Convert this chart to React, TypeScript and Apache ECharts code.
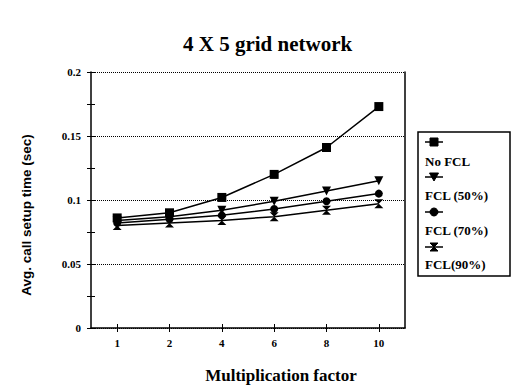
import React, { useEffect, useRef } from "react";
import * as echarts from "echarts";

const categories = ["1", "2", "4", "6", "8", "10"];
const noFCL = [0.086, 0.09, 0.102, 0.12, 0.141, 0.173];
const fcl50 = [0.084, 0.087, 0.092, 0.099, 0.107, 0.115];
const fcl70 = [0.082, 0.085, 0.088, 0.093, 0.099, 0.105];
const fcl90 = [0.08, 0.082, 0.084, 0.087, 0.092, 0.097];
const seriesNames = ["No FCL", "FCL (50%)", "FCL (70%)", "FCL(90%)"];

const SERIF = "'Liberation Serif', 'Times New Roman', serif";
const SANS = "'Liberation Sans', Arial, sans-serif";
const HOURGLASS = "path://M0,0L10,0L5,5L10,10L0,10L5,5Z";

export default function App() {
  const ref = useRef<HTMLDivElement>(null);
  useEffect(() => {
    document.body.style.margin = "0";
    const chart = echarts.init(ref.current!, null, { renderer: "svg" });
    const black = "#000";
    const common = {
      type: "line",
      xAxisIndex: 0,
      yAxisIndex: 0,
      lineStyle: { color: black, width: 1.5 },
      itemStyle: { color: black },
      showSymbol: true,
    };
    const legendGraphics: any[] = [
      {
        type: "rect",
        shape: { x: 418, y: 132, width: 92, height: 144 },
        style: { fill: "#fff", stroke: black, lineWidth: 1.5 },
        z: 10,
      },
    ];
    seriesNames.forEach((name, i) => {
      const sy = 142 + i * 35;
      const ty = 161 + i * 34.5;
      legendGraphics.push({
        type: "line",
        shape: { x1: 425, y1: sy, x2: 443, y2: sy },
        style: { stroke: black, lineWidth: 1.5 },
        z: 11,
      });
      let sym: any;
      if (i === 0) {
        sym = { type: "rect", shape: { x: 430, y: sy - 4, width: 8, height: 8 } };
      } else if (i === 1) {
        sym = { type: "polygon", shape: { points: [[429.5, sy - 4], [438.5, sy - 4], [434, sy + 4]] } };
      } else if (i === 2) {
        sym = { type: "circle", shape: { cx: 434, cy: sy, r: 4 } };
      } else {
        sym = {
          type: "polygon",
          shape: { points: [[430, sy - 4], [438, sy - 4], [434, sy], [438, sy + 4], [430, sy + 4], [434, sy]] },
        };
      }
      sym.style = { fill: black, stroke: black };
      sym.z = 11;
      legendGraphics.push(sym);
      legendGraphics.push({
        type: "text",
        x: 425,
        y: ty,
        style: {
          text: name,
          font: `bold 13px ${SERIF}`,
          fill: black,
          textVerticalAlign: "middle",
        },
        z: 11,
      });
    });

    const tickAxisBase = {
      type: "value",
      min: 0,
      max: 0.2,
      interval: 0.05,
    };

    chart.setOption({
      animation: false,
      title: {
        text: "4 X 5 grid network",
        left: 178,
        top: 28,
        textStyle: { fontFamily: SERIF, fontWeight: "bold", fontSize: 21, color: black },
      },
      grid: { left: 91, right: 107, top: 72, bottom: 56 },
      xAxis: [
        {
          type: "category",
          data: categories,
          boundaryGap: true,
          name: "Multiplication factor",
          nameLocation: "middle",
          nameGap: 39,
          nameTextStyle: {
            fontFamily: SERIF,
            fontWeight: "bold",
            fontSize: 17,
            color: black,
            padding: [0, 0, 0, 66],
          },
          axisLine: { show: true, lineStyle: { color: black, width: 1.5 } },
          axisTick: { show: true, alignWithLabel: true, length: 4, lineStyle: { color: black } },
          axisLabel: { fontFamily: SERIF, fontWeight: "bold", fontSize: 11, color: black, margin: 9 },
          splitLine: { show: false },
        },
        {
          type: "category",
          data: categories,
          boundaryGap: true,
          position: "bottom",
          axisLine: { show: false },
          axisTick: { show: true, inside: true, alignWithLabel: true, length: 4, lineStyle: { color: black } },
          axisLabel: { show: false },
          splitLine: { show: false },
        },
      ],
      yAxis: [
        {
          ...tickAxisBase,
          name: "Avg. call setup time (sec)",
          nameLocation: "middle",
          nameGap: 58,
          nameTextStyle: { fontFamily: SANS, fontWeight: "bold", fontSize: 13.5, color: black, padding: [0, 30, 0, 0] },
          axisLine: { show: true, lineStyle: { color: black, width: 1.5 } },
          axisTick: { show: true, length: 4, lineStyle: { color: black } },
          minorTick: { show: true, splitNumber: 2, length: 4, lineStyle: { color: black } },
          splitLine: { show: true, lineStyle: { type: "dotted", color: black, width: 1 } },
          axisLabel: { fontFamily: SERIF, fontWeight: "bold", fontSize: 11, color: black, margin: 10 },
        },
        {
          ...tickAxisBase,
          position: "left",
          axisLine: { show: false },
          axisTick: { show: true, inside: true, length: 4, lineStyle: { color: black } },
          minorTick: { show: true, splitNumber: 2, length: 4, lineStyle: { color: black } },
          splitLine: { show: false },
          axisLabel: { show: false },
        },
        {
          ...tickAxisBase,
          position: "right",
          axisLine: { show: true, lineStyle: { color: black, width: 1.5 } },
          axisTick: { show: false },
          splitLine: { show: false },
          axisLabel: { show: false },
        },
      ],
      series: [
        { ...common, name: seriesNames[0], data: noFCL, symbol: "rect", symbolSize: 9 },
        { ...common, name: seriesNames[1], data: fcl50, symbol: "triangle", symbolRotate: 180, symbolSize: 9 },
        { ...common, name: seriesNames[2], data: fcl70, symbol: "circle", symbolSize: 8 },
        { ...common, name: seriesNames[3], data: fcl90, symbol: HOURGLASS, symbolSize: 9 },
      ],
      graphic: legendGraphics,
    });
    return () => chart.dispose();
  }, []);
  return <div ref={ref} style={{ width: 512, height: 389 }} />;
}
